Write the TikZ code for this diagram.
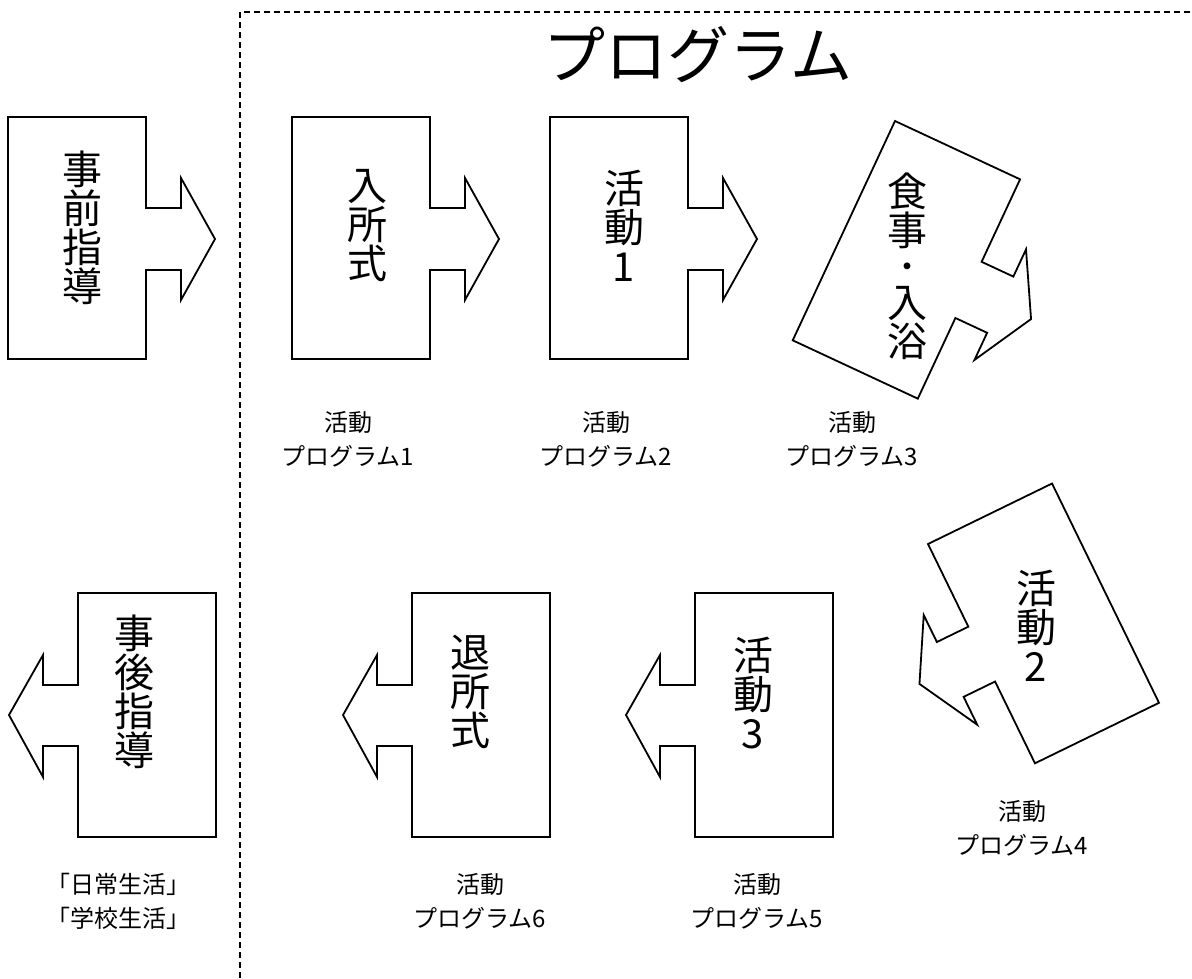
\documentclass[tikz,border=0pt]{standalone}
\usepackage{fontspec}
\setmainfont{Noto Sans CJK JP}
\tikzset{
  shapeline/.style={line width=1.8pt, line join=miter, fill=white},
  dashline/.style={line width=1.2pt, dash pattern=on 6pt off 4pt},
  boxtext/.style={font=\fontsize{40}{39}\selectfont, align=center, inner sep=0pt},
  lbl/.style={font=\fontsize{24}{34}\selectfont, align=center, inner sep=0pt},
  rarrow/.pic={\draw[shapeline] (0,0) -- (138,0) -- (138,91) -- (173,91) -- (173,61) -- (207,122) -- (173,183) -- (173,153) -- (138,153) -- (138,242) -- (0,242) -- cycle;},
  larrow/.pic={\draw[shapeline] (0,0) -- (138,0) -- (138,244) -- (0,244) -- (0,153) -- (-35,153) -- (-35,184) -- (-69,122) -- (-35,62) -- (-35,92) -- (0,92) -- cycle;}
}
\begin{document}
\begin{tikzpicture}[x=1pt,y=-1pt]
\useasboundingbox (0,0) rectangle (1192,978);
% dashed frame
\coordinate (dbot) at (240,978);
\coordinate (dcorner) at (240,12);
\coordinate (dright) at (1192,12);
\draw[dashline] (dbot) -- (dcorner) -- (dright);
\node[font=\fontsize{62}{62}\selectfont, inner sep=0pt] (title) at (698,55) {プログラム};
% upper row
\pic (s1) at (8,117) {rarrow};
\pic (s2) at (292,117) {rarrow};
\pic (s3) at (550,117) {rarrow};
\pic[rotate=-25] (s4) at (895,121) {rarrow};
\node[boxtext] (t1) at (82,228) {事\\前\\指\\導};
\node[boxtext] (t2) at (367,226) {入\\所\\式};
\node[boxtext] (t3) at (624,226) {活\\動\\1};
\node[boxtext] (t4) at (907,266) {食\\事\\[-6pt]{\fontsize{32}{32}\selectfont ・}\\入\\浴};
% lower row
\pic[rotate=26] (s5) at (928,544) {larrow};
\pic (s6) at (695,593) {larrow};
\pic (s7) at (412,593) {larrow};
\pic (s8) at (78,593) {larrow};
\node[boxtext] (t5) at (1036,626) {活\\動\\2};
\node[boxtext] (t6) at (753,693) {活\\動\\3};
\node[boxtext] (t7) at (470,692) {退\\所\\式};
\node[boxtext] (t8) at (134,692) {事\\後\\指\\導};
% labels
\node[lbl] (l1) at (348,439) {活動\\プログラム1};
\node[lbl] (l2) at (606,439) {活動\\プログラム2};
\node[lbl] (l3) at (852,439) {活動\\プログラム3};
\node[lbl] (l4) at (1022,828) {活動\\プログラム4};
\node[lbl] (l5) at (757,901) {活動\\プログラム5};
\node[lbl] (l6) at (480,901) {活動\\プログラム6};
\node[lbl] (l7) at (118,901) {「日常生活」\\「学校生活」};
\end{tikzpicture}
\end{document}
